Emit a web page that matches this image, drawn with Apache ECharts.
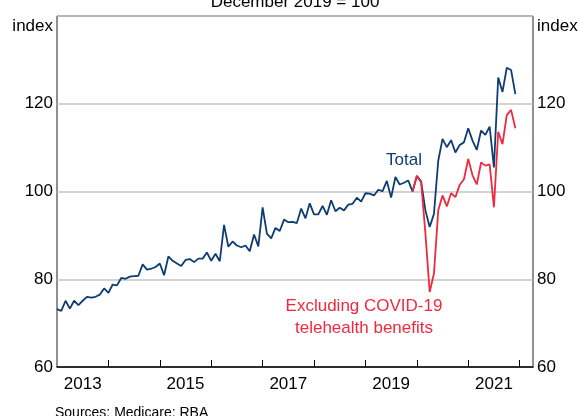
<!DOCTYPE html>
<html><head><meta charset="utf-8">
<script src="https://cdn.jsdelivr.net/npm/echarts@6/dist/echarts.min.js"></script>
<style>html,body{margin:0;padding:0;background:#fff}#c{width:578px;height:416px}</style>
</head><body><div id="c"></div>
<script>
// Monthly observations, January 2013 to December 2021
const startYear = 2013;
const totalIndex = [
  73.2, 72.8, 75.1, 73.3, 75.1, 74.1, 75.1, 76.0, 75.8, 76.0, 76.5, 77.9,
  76.9, 78.8, 78.6, 80.3, 80.1, 80.6, 80.7, 80.8, 83.4, 82.2, 82.4, 82.8,
  83.6, 80.9, 85.2, 84.2, 83.6, 83.0, 84.4, 84.6, 83.9, 84.7, 84.7, 86.1,
  84.2, 85.8, 84.1, 92.4, 87.4, 88.6, 87.7, 87.3, 87.7, 86.4, 90.2, 87.5,
  96.4, 90.4, 89.3, 91.7, 91.0, 93.6, 93.0, 93.1, 92.8, 96.1, 93.9, 97.3,
  94.8, 94.8, 96.7, 94.7, 98.0, 95.5, 96.3, 95.7, 97.0, 97.2, 98.6, 97.7,
  99.6, 99.5, 99.1, 100.4, 100.1, 102.4, 98.6, 103.3, 101.6, 102.0, 102.5, 100.0,
  103.5, 102.3, 95.7, 91.9, 94.9, 107.0, 112.0, 110.1, 111.7, 108.9, 110.6, 111.2,
  114.4, 111.6, 109.5, 113.9, 112.9, 114.8, 105.5, 126.0, 122.7, 128.2, 127.7, 122.2
];
// Excluding COVID-19 telehealth benefits, December 2019 to December 2021
const exStartIndex = 83;
const exTelehealth = [
  100.0, 103.6, 102.1, 90.5, 77.1, 81.3, 95.7, 99.1, 96.6, 99.6, 98.7, 101.5,
  102.8, 107.4, 103.7, 101.6, 106.6, 105.9, 106.2, 96.4, 113.6, 110.8, 117.4, 118.6, 114.4
];
const xLabelYears = [2013, 2015, 2017, 2019, 2021];
const xTickYears = [2014, 2015, 2016, 2017, 2018, 2019, 2020, 2021, 2022];

const FONT = 'Liberation Sans, Arial, sans-serif';
const BLUE = '#0d3d72';
const RED = '#ee2a3f';

const totalData = totalIndex.map((v, i) => [startYear + i / 12, v]);
const exData = exTelehealth.map((v, j) => [startYear + (exStartIndex + j) / 12, v]);

const chart = echarts.init(document.getElementById('c'), null, {renderer: 'canvas'});
const yCommon = {
  type: 'value', min: 60, max: 140, interval: 20,
  axisLine: {show: false}, axisTick: {show: false},
  axisLabel: {fontSize: 17, fontFamily: FONT, color: '#000', margin: 4,
    formatter: v => v === 140 ? '' : String(v)},
};
chart.setOption({
  animation: false,
  grid: {left: 57, right: 45, top: 16, bottom: 49, show: true,
    borderColor: '#222', borderWidth: 1, backgroundColor: 'transparent'},
  xAxis: {
    type: 'value', min: 2013, max: 2022.26,
    axisLine: {show: true, lineStyle: {color: '#000', width: 1.5}},
    axisTick: {show: true, inside: true, length: 7, lineStyle: {color: '#000', width: 1},
      customValues: xTickYears},
    axisLabel: {show: true, fontSize: 17, fontFamily: FONT, color: '#000', margin: 9,
      customValues: xLabelYears.map(y => y + 0.5), formatter: v => String(Math.floor(v))},
    splitLine: {show: false}
  },
  yAxis: [
    Object.assign({}, yCommon, {position: 'left',
      splitLine: {show: true, lineStyle: {color: '#c4c4c4', width: 1.5}}}),
    Object.assign({}, yCommon, {position: 'right', splitLine: {show: false}})
  ],
  series: [
    {type: 'line', data: totalData, yAxisIndex: 0, showSymbol: false, symbol: 'none',
      lineStyle: {color: BLUE, width: 1.8}, z: 2},
    {type: 'line', data: exData, yAxisIndex: 0, showSymbol: false, symbol: 'none',
      lineStyle: {color: RED, width: 1.8}, z: 3}
  ],
  graphic: [
    {type: 'text', x: 295, y: 2, style: {text: 'December 2019 = 100', fontSize: 17, fontFamily: FONT, fill: '#000', align: 'center', verticalAlign: 'middle'}},
    {type: 'text', x: 53, y: 26, style: {text: 'index', fontSize: 17, fontFamily: FONT, fill: '#000', align: 'right', verticalAlign: 'middle'}},
    {type: 'text', x: 537, y: 26, style: {text: 'index', fontSize: 17, fontFamily: FONT, fill: '#000', align: 'left', verticalAlign: 'middle'}},
    {type: 'text', x: 404, y: 160, style: {text: 'Total', fontSize: 17, fontFamily: FONT, fill: BLUE, align: 'center', verticalAlign: 'middle'}},
    {type: 'text', x: 364, y: 306, style: {text: 'Excluding COVID-19', fontSize: 17, fontFamily: FONT, fill: RED, align: 'center', verticalAlign: 'middle'}},
    {type: 'text', x: 364, y: 328, style: {text: 'telehealth benefits', fontSize: 17, fontFamily: FONT, fill: RED, align: 'center', verticalAlign: 'middle'}},
    {type: 'text', x: 55, y: 413, style: {text: 'Sources: Medicare; RBA', fontSize: 14, fontFamily: FONT, fill: '#000', align: 'left', verticalAlign: 'middle'}}
  ]
});
</script>
</body></html>
